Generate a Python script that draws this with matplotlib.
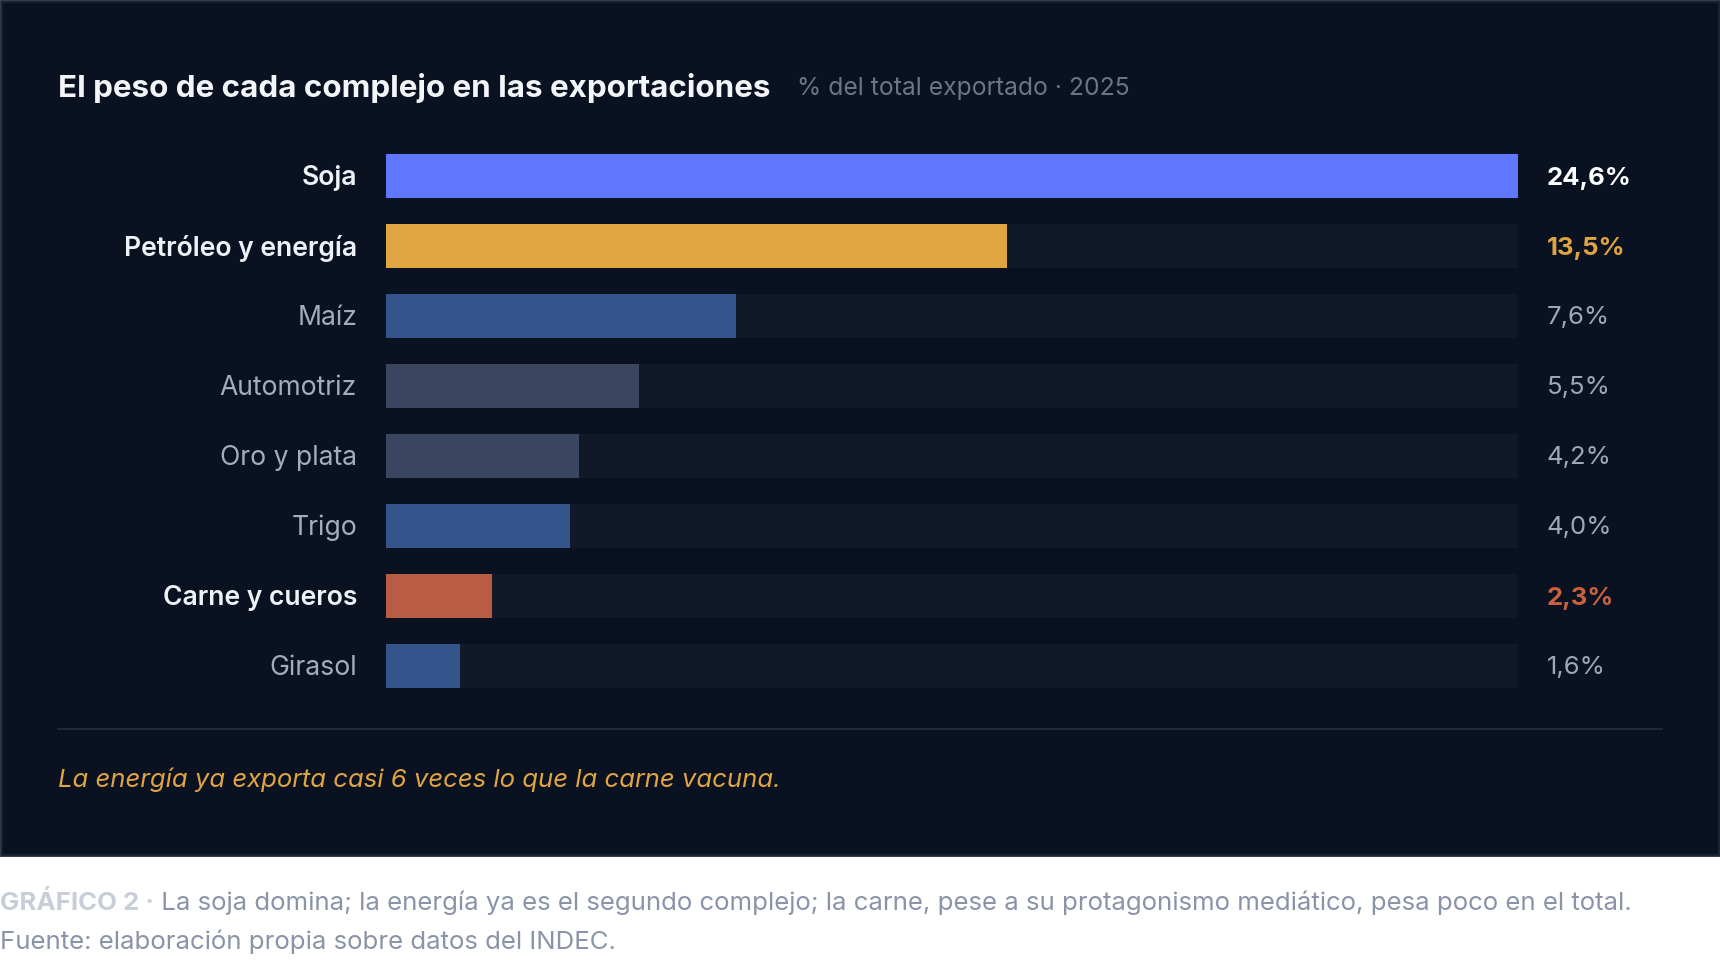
import matplotlib
matplotlib.use("Agg")
import matplotlib.pyplot as plt
from matplotlib.patches import Rectangle
from matplotlib.transforms import blended_transform_factory, offset_copy

W, H = 1720, 960

# data
categories = ["Soja", "Petróleo y energía", "Maíz", "Automotriz",
              "Oro y plata", "Trigo", "Carne y cueros", "Girasol"]
shares = [24.6, 13.5, 7.6, 5.5, 4.2, 4.0, 2.3, 1.6]
bar_colors = ["#5f78ff", "#e0a541", "#34548c", "#3a465f",
              "#3a465f", "#34548c", "#b85d43", "#34548c"]
highlight = ["Soja", "Petróleo y energía", "Carne y cueros"]
value_colors = {"Soja": "#ffffff", "Petróleo y energía": "#e0a541",
                "Carne y cueros": "#c9613f"}

title = "El peso de cada complejo en las exportaciones"
subtitle = "% del total exportado · 2025"
note = "La energía ya exporta casi 6 veces lo que la carne vacuna."
caption_tag = "GRÁFICO 2 ·"
caption_1 = " La soja domina; la energía ya es el segundo complejo; la carne, pese a su protagonismo mediático, pesa poco en el total."
caption_2 = "Fuente: elaboración propia sobre datos del INDEC."

BG = "#0a1120"
TRACK = "#111827"
FONT = "Inter"

plt.rcParams["font.family"] = [FONT, "DejaVu Sans"]

fig = plt.figure(figsize=(W / 100, H / 100), dpi=100, facecolor="white")

# overlay in pixel coordinates for panel + free text
ov = fig.add_axes([0, 0, 1, 1], zorder=0)
ov.set_xlim(0, W)
ov.set_ylim(H, 0)
ov.axis("off")
ov.add_patch(Rectangle((1, 1), W - 2, 854, facecolor=BG, edgecolor="#1c2434", lw=2))

ov.text(58, 88, title, color="#f3f5f9", fontsize=22.6, fontweight="bold", va="center", ha="left")
ov.text(797, 89, subtitle, color="#6b7588", fontsize=17.8, va="center", ha="left")
ov.plot([58, 1662], [729, 729], color="#1f2937", lw=1.5)
ov.text(58, 780, note, color="#e0a541", fontsize=18.5, style="italic", va="center", ha="left")

t = ov.text(0, 903, caption_tag, color="#c8ced8", fontsize=18.6, fontweight="bold", va="center", ha="left")
fig.canvas.draw()
bb = t.get_window_extent()
ov.text(bb.x1, 903, caption_1, color="#8a94a8", fontsize=18.6, va="center", ha="left")
ov.text(0, 942, caption_2, color="#8a94a8", fontsize=18.6, va="center", ha="left")

# bar axes: rows 70 px apart, first centre at y=176
left, right = 386, 1518
top, bottom = 141, 701
ax = fig.add_axes([left / W, 1 - bottom / H, (right - left) / W, (bottom - top) / H], zorder=1)
ax.patch.set_alpha(0)
n = len(categories)
ys = list(range(n))
vmax = max(shares)
ax.barh(ys, [vmax] * n, height=0.63, color=TRACK, lw=0)
ax.barh(ys, shares, height=0.63, color=bar_colors, lw=0)
ax.set_xlim(0, vmax)
ax.set_ylim(n - 0.5, -0.5)
ax.axis("off")

tr = offset_copy(blended_transform_factory(ax.transAxes, ax.transData),
                 fig=fig, y=-2, units="dots")
for y, cat, val in zip(ys, categories, shares):
    hi = cat in highlight
    ax.text(-0.0256, y, cat, transform=tr, ha="right", va="center",
            fontsize=19.1, color="#eef1f6" if hi else "#a3adbd",
            fontweight="semibold" if hi else "normal")
    label = f"{val:.1f}%".replace(".", ",")
    ax.text(1.0256, y, label, transform=tr, ha="left", va="center",
            fontsize=18.5, color=value_colors.get(cat, "#9ea8b8"),
            fontweight="bold" if hi else "normal")

fig.savefig("out.png", dpi=100, facecolor="white")
